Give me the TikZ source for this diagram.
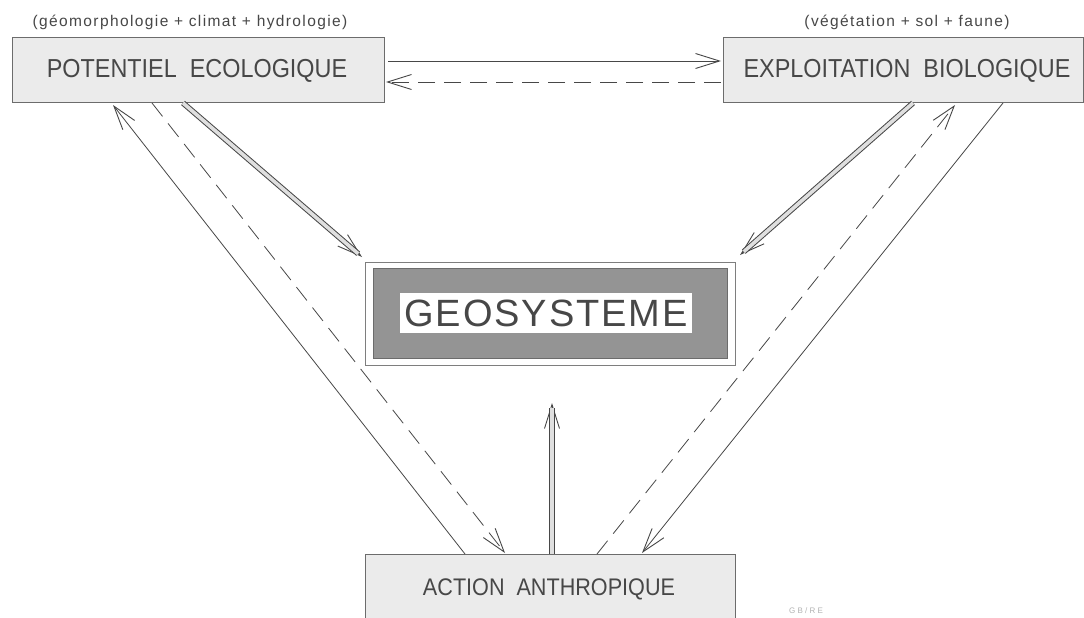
\documentclass[tikz,border=0pt]{standalone}
\usepackage{fontspec}
\setmainfont{Liberation Sans}
\newfontfamily\boxfont[FakeStretch=0.9]{Liberation Sans}
\newfontfamily\capfont[LetterSpace=9]{Liberation Sans}
\newfontfamily\geofont[LetterSpace=5]{Liberation Sans}
\usetikzlibrary{arrows.meta}
\definecolor{ink}{gray}{0.28}
\definecolor{boxfill}{gray}{0.92}
\definecolor{geofill}{gray}{0.58}
\tikzset{
  x=1pt, y=-1pt,
  tipa/.style={-{Straight Barb[length=24pt,width=15pt,line width=0.9pt]}},
  plainarrow/.style={draw=ink, line width=0.8pt, tipa},
  dasharrow/.style={draw=ink, line width=0.8pt, dash pattern=on 17pt off 9pt, tipa},
  dbl/.style={draw=ink, line width=1pt, double=gray!25, double distance=3.6pt},
  dblarrow/.style={draw=ink, line width=1pt, tipa},
  panel/.style={draw=ink!80, line width=0.6pt, fill=boxfill},
  lbl/.style={text=ink, inner sep=0pt},
}
\begin{document}
\begin{tikzpicture}
\useasboundingbox (0,0) rectangle (1084,618);
\fill[white] (0,0) rectangle (1084,618);
% boxes
\draw[panel] (12,37) rectangle (384,102);
\node[lbl, font=\boxfont\fontsize{26}{26}\selectfont] (pe) at (197,71) {POTENTIEL\hspace{0.5em}ECOLOGIQUE};
\node[lbl, font=\capfont\fontsize{15.5}{15.5}\selectfont] (pecap) at (190,22) {(géomorphologie + climat + hydrologie)};

\draw[panel] (723,37) rectangle (1083,102);
\node[lbl, font=\boxfont\fontsize{26}{26}\selectfont] (eb) at (907,71) {EXPLOITATION\hspace{0.5em}BIOLOGIQUE};
\node[lbl, font=\capfont\fontsize{15.5}{15.5}\selectfont] (ebcap) at (907,22) {(végétation + sol + faune)};

\draw[draw=ink!70, line width=0.6pt, fill=white] (365,262) rectangle (735,365);
\draw[draw=ink!80, line width=0.6pt, fill=geofill] (373,268) rectangle (727,358);
\fill[white] (400,293) rectangle (692,333);
\node[lbl, font=\geofont\fontsize{38}{38}\selectfont] (geo) at (546,313) {GEOSYSTEME};

\draw[panel] (365,554) rectangle (735,630);
\node[lbl, font=\boxfont\fontsize{24}{24}\selectfont] (aa) at (549,589) {ACTION\hspace{0.5em}ANTHROPIQUE};

\node[text=gray!60, inner sep=0pt, font=\fontsize{8}{8}\selectfont] (sig) at (806,611) {G B / R E};

% connector end points
\coordinate (peR1) at (388,61);  \coordinate (ebL1) at (721,61);
\coordinate (ebL2) at (721,82);  \coordinate (peR2) at (386,82);
\coordinate (peB1) at (113,105); \coordinate (aaT1) at (465,554);
\coordinate (peB2) at (152,103); \coordinate (aaT2) at (505,553);
\coordinate (peB3) at (183,103); \coordinate (geoTL) at (362,257);
\coordinate (ebB1) at (913,103); \coordinate (geoTR) at (740,255);
\coordinate (aaT4) at (597,554); \coordinate (ebB2) at (955,105);
\coordinate (ebB3) at (1003,103); \coordinate (aaT5) at (642,553);
\coordinate (aaT3) at (552,554); \coordinate (geoB) at (552,403);

% simple arrows
\draw[plainarrow] (peR1) -- (ebL1);
\draw[dasharrow] (ebL2) -- (peR2);
\draw[plainarrow] (aaT1) -- (peB1);
\draw[dasharrow] (peB2) -- (aaT2);
\draw[dasharrow] (aaT4) -- (ebB2);
\draw[plainarrow] (ebB3) -- (aaT5);

% double (hollow) arrows
\draw[dblarrow] (peB3) -- (geoTL);
\draw[dbl, shorten >=5pt] (peB3) -- (geoTL);
\draw[dblarrow] (ebB1) -- (geoTR);
\draw[dbl, shorten >=5pt] (ebB1) -- (geoTR);
\draw[dblarrow] (aaT3) -- (geoB);
\draw[dbl, shorten >=5pt] (aaT3) -- (geoB);
\end{tikzpicture}
\end{document}
